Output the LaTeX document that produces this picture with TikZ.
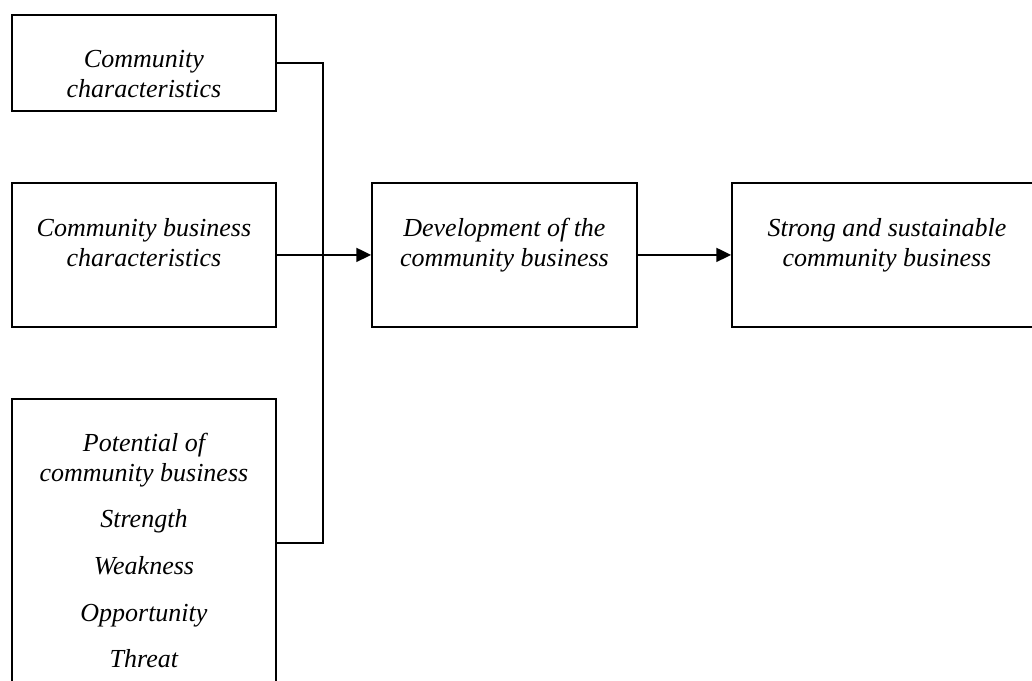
\documentclass[tikz,border=0pt]{standalone}
\usepackage{fontspec}
\setmainfont{Liberation Serif}
\usetikzlibrary{positioning,arrows.meta}

\tikzset{
	box/.style={draw, line width=1.4pt, inner sep=0pt, anchor=north west},
	boxtext/.style={font=\fontsize{19.5}{22.5}\selectfont\itshape, align=center, inner sep=0pt},
	wire/.style={line width=1.4pt},
	arr/.style={line width=1.4pt, -{Triangle[length=11pt,width=10.5pt]}}
}

\begin{document}
\begin{tikzpicture}[x=.75pt,y=.75pt,yscale=-1,xscale=1]
				\useasboundingbox (0,0) rectangle (1032,681);
				\clip (0,0) rectangle (1032,681);
				
				%Shape: Rectangle [commbox]
				\node [box, minimum width=198pt, minimum height=72pt] (commbox) at (11,14) {};
				%Shape: Rectangle [bizbox]
				\node [box, minimum width=198pt, minimum height=108pt] (bizbox) at (11,182) {};
				%Shape: Rectangle [potbox]
				\node [box, minimum width=198pt, minimum height=216pt] (potbox) at (11,398) {};
				%Shape: Rectangle [devbox]
				\node [box, minimum width=198.75pt, minimum height=108pt] (devbox) at (371,182) {};
				%Shape: Rectangle [strongbox]
				\node [box, minimum width=232.5pt, minimum height=108pt] (strongbox) at (731,182) {};
				
				% Text Node
				\node [boxtext, below=27pt of commbox.north] (commtext) {Community\\characteristics};
				% Text Node
				\node [boxtext, below=27pt of bizbox.north] (biztext) {Community business\\characteristics};
				% Text Node
				\node [boxtext, below=26pt of potbox.north] (pottext) {Potential of\\community business\\[12.5pt]Strength\\[12.5pt]Weakness\\[12.5pt]Opportunity\\[12.5pt]Threat};
				% Text Node
				\node [boxtext, below=27pt of devbox.north] (devtext) {Development of the\\community business};
				% Text Node
				\node [boxtext, below=27pt of strongbox.north] (strongtext) {Strong and sustainable\\community business};
				
				%Straight Lines [junction]
				\coordinate (junc) at (323,254);
				\draw [wire] (commbox.east) -| (junc) |- (potbox.east);
				%Straight Lines [arrows]
				\draw [arr] (bizbox.east) -- (devbox.west);
				\draw [arr] (devbox.east) -- (strongbox.west);
				
\end{tikzpicture}
\end{document}
